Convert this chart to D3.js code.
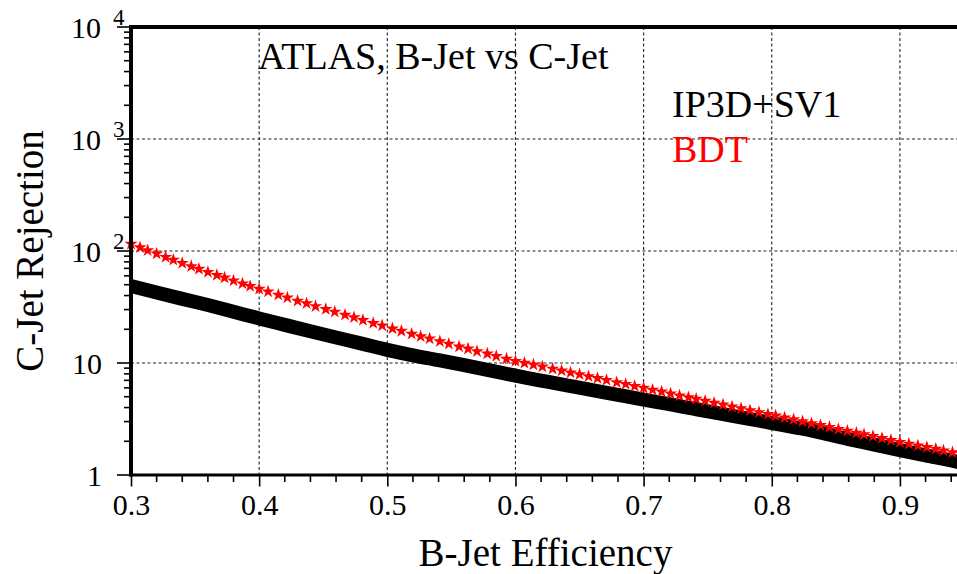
<!DOCTYPE html>
<html>
<head>
<meta charset="utf-8">
<script src="https://cdn.jsdelivr.net/npm/d3@7"></script>
<style>
  html, body { margin: 0; padding: 0; background: #fff; }
  svg { display: block; }
  svg text { font-family: "Liberation Serif", "Times New Roman", serif !important; fill: #000; }
</style>
</head>
<body>
<svg id="chart" width="957" height="574"></svg>
<script>
// B-jet efficiency vs. C-jet rejection, two taggers
const effBDT = [
  0.300, 0.307, 0.313, 0.320, 0.327, 0.333, 0.340, 0.347, 0.353, 0.360, 0.367, 0.373, 0.380, 0.387, 0.393, 0.400,
  0.407, 0.415, 0.422, 0.430, 0.437, 0.444, 0.452, 0.459, 0.467, 0.474, 0.481, 0.489, 0.496, 0.504, 0.511, 0.519,
  0.526, 0.533, 0.541, 0.548, 0.556, 0.563, 0.570, 0.578, 0.585, 0.593, 0.600,
  0.607, 0.614, 0.621, 0.629, 0.636, 0.643, 0.650, 0.657, 0.664, 0.671, 0.679, 0.686, 0.693, 0.700,
  0.707, 0.714, 0.721, 0.728, 0.735, 0.741, 0.748, 0.755, 0.762, 0.769, 0.776, 0.783, 0.790, 0.797, 0.803, 0.810,
  0.817, 0.824, 0.831, 0.838, 0.845, 0.852, 0.859, 0.866, 0.872, 0.879, 0.886, 0.893, 0.900, 0.907, 0.914, 0.921,
  0.928, 0.934, 0.941, 0.948
];
const rejBDT = [
  115.5, 107.6, 101.3, 94.5, 88.3, 83.3, 78.0, 73.0, 69.1, 64.8, 60.8, 57.7, 54.3, 51.1, 48.6, 45.8,
  43.3, 40.5, 38.3, 35.9, 34.0, 32.1, 30.2, 28.6, 26.9, 25.5, 24.1, 22.7, 21.6, 20.3, 19.3, 18.2,
  17.3, 16.5, 15.6, 14.8, 14.0, 13.4, 12.7, 12.1, 11.5, 10.9, 10.4,
  10.0, 9.65, 9.28, 8.88, 8.54, 8.21, 7.90, 7.60, 7.31, 7.03, 6.72, 6.47, 6.22, 5.98,
  5.76, 5.54, 5.33, 5.12, 4.93, 4.77, 4.59, 4.41, 4.24, 4.08, 3.93, 3.78, 3.63, 3.49, 3.38, 3.25,
  3.13, 3.01, 2.89, 2.78, 2.68, 2.57, 2.48, 2.38, 2.30, 2.22, 2.13, 2.05, 1.97, 1.90, 1.83, 1.77,
  1.71, 1.65, 1.59, 1.54
];

const effIP3D = [
  0.30, 0.32, 0.34, 0.36, 0.38, 0.40, 0.42, 0.44, 0.46, 0.48, 0.50, 0.52, 0.54, 0.56, 0.58, 0.60,
  0.62, 0.64, 0.66, 0.68, 0.70, 0.72, 0.74, 0.76, 0.78, 0.80, 0.82, 0.83, 0.836, 0.86, 0.88, 0.90,
  0.92, 0.945, 0.95
];
const rejIP3D = [
  48.7, 42.6, 37.4, 32.9, 28.7, 25.0, 21.9, 19.2, 16.9, 14.9, 13.1, 11.7, 10.6, 9.55, 8.58, 7.70,
  6.97, 6.31, 5.73, 5.20, 4.72, 4.29, 3.89, 3.53, 3.21, 2.91, 2.64, 2.51, 2.42, 2.09, 1.87, 1.67,
  1.50, 1.31, 1.27
];

const xMajorTicks = [0.3, 0.4, 0.5, 0.6, 0.7, 0.8, 0.9];
const xTickLabels = ["0.3", "0.4", "0.5", "0.6", "0.7", "0.8", "0.9"];
const yDecades = [1, 10, 100, 1000, 10000];
const yTickBase = ["1", "10", "10", "10", "10"];
const yTickExp = ["", "", "2", "3", "4"];

const titleText = "ATLAS, B-Jet vs C-Jet";
const seriesNames = ["IP3D+SV1", "BDT"];
const seriesColors = ["#000000", "#ff0000"];

const SERIF = '"Liberation Serif", "Times New Roman", serif';
const svg = d3.select("#chart").style("font-family", SERIF);
const plotL = 131, plotT = 27, plotB = 475, plotR = 964;

const x = d3.scaleLinear().domain([0.3, 0.95]).range([plotL, plotR]);
const y = d3.scaleLog().domain([1, 10000]).range([plotB, plotT]);

const plot = svg.append("g");

// dotted grid
plot.append("g").selectAll("line")
  .data(xMajorTicks.slice(1))
  .join("line")
  .attr("x1", d => x(d)).attr("x2", d => x(d))
  .attr("y1", plotT).attr("y2", plotB)
  .attr("stroke", "#222").attr("stroke-width", 1.1)
  .attr("stroke-dasharray", "3,2.5");
plot.append("g").selectAll("line")
  .data(yDecades.slice(1, 4))
  .join("line")
  .attr("x1", plotL).attr("x2", plotR)
  .attr("y1", d => y(d)).attr("y2", d => y(d))
  .attr("stroke", "#222").attr("stroke-width", 1.1)
  .attr("stroke-dasharray", "3,2.5");

// IP3D+SV1 curve: heavy black band
const ipPts = effIP3D.map((e, i) => [e, rejIP3D[i]]);
plot.append("path")
  .datum(ipPts)
  .attr("d", d3.line().curve(d3.curveMonotoneX).x(d => x(d[0])).y(d => y(d[1])))
  .attr("fill", "none")
  .attr("stroke", seriesColors[0])
  .attr("stroke-width", 14)
  .attr("stroke-linejoin", "round");

// BDT curve: red stars
const bdtPts = effBDT.map((e, i) => [e, rejBDT[i]]);
plot.append("g").selectAll("path")
  .data(bdtPts)
  .join("path")
  .attr("transform", d => `translate(${x(d[0])},${y(d[1])})`)
  .attr("d", d3.symbol(d3.symbolStar, 54))
  .attr("fill", seriesColors[1]);

// axis frame
const frame = svg.append("g");
frame.append("line").attr("x1", plotL).attr("x2", plotR + 5).attr("y1", plotT).attr("y2", plotT)
  .attr("stroke", "#000").attr("stroke-width", 4);
frame.append("line").attr("x1", plotL).attr("x2", plotL).attr("y1", plotT - 2).attr("y2", plotB + 1.5)
  .attr("stroke", "#000").attr("stroke-width", 4);
frame.append("line").attr("x1", plotL - 2).attr("x2", plotR + 5).attr("y1", plotB).attr("y2", plotB)
  .attr("stroke", "#000").attr("stroke-width", 3);

// x axis ticks
const xAxis = d3.axisBottom(x)
  .tickValues(xMajorTicks)
  .tickSize(11)
  .tickFormat((d, i) => xTickLabels[i]);
const xg = svg.append("g").attr("transform", `translate(0,${plotB + 0.5})`).call(xAxis)
  .attr("font-family", SERIF).attr("font-size", 30);
xg.select(".domain").remove();
xg.selectAll(".tick line").attr("stroke", "#000").attr("stroke-width", 1.6);
xg.selectAll(".tick text")
  .style("font-family", SERIF).attr("font-size", 30).attr("fill", "#000")
  .attr("y", 0).attr("dy", 39.5);

const xMinor = d3.range(0.32, 0.95, 0.02).filter(v => Math.abs(v * 10 - Math.round(v * 10)) > 1e-6);
svg.append("g").selectAll("line")
  .data(xMinor)
  .join("line")
  .attr("x1", d => x(d)).attr("x2", d => x(d))
  .attr("y1", plotB + 1).attr("y2", plotB + 7)
  .attr("stroke", "#000").attr("stroke-width", 1.6);

// y axis ticks
const yg = svg.append("g");
yg.selectAll("line.major")
  .data(yDecades)
  .join("line")
  .attr("class", "major")
  .attr("x1", plotL - 14).attr("x2", plotL)
  .attr("y1", d => y(d)).attr("y2", d => y(d))
  .attr("stroke", "#000").attr("stroke-width", 1.6);
const yMinor = [];
yDecades.slice(0, 4).forEach(dec => { for (let k = 2; k <= 9; k++) yMinor.push(dec * k); });
yg.selectAll("line.minor")
  .data(yMinor)
  .join("line")
  .attr("class", "minor")
  .attr("x1", plotL - 7).attr("x2", plotL)
  .attr("y1", d => y(d)).attr("y2", d => y(d))
  .attr("stroke", "#000").attr("stroke-width", 1.6);

yDecades.forEach((d, i) => {
  yg.append("text")
    .attr("x", yTickExp[i] ? 101 : 102)
    .attr("y", y(d) + 10.5)
    .attr("text-anchor", "end")
    .attr("font-size", 30)
    .text(yTickBase[i]);
  if (yTickExp[i]) {
    yg.append("text")
      .attr("x", 113)
      .attr("y", y(d) - 2)
      .attr("font-size", 23)
      .text(yTickExp[i]);
  }
});

// axis titles
svg.append("text")
  .attr("x", 545.5).attr("y", 566)
  .attr("text-anchor", "middle")
  .attr("font-size", 39)
  .text("B-Jet Efficiency");
svg.append("text")
  .attr("transform", "translate(43,251) rotate(-90)")
  .attr("text-anchor", "middle")
  .attr("font-size", 39)
  .text("C-Jet Rejection");

// title and legend
svg.append("text")
  .attr("x", 258).attr("y", 69)
  .attr("font-size", 38)
  .text(titleText);
seriesNames.forEach((name, i) => {
  svg.append("text")
    .attr("x", 672).attr("y", 117 + i * 45)
    .attr("font-size", 38)
    .style("fill", seriesColors[i])
    .text(name);
});
</script>
</body>
</html>
